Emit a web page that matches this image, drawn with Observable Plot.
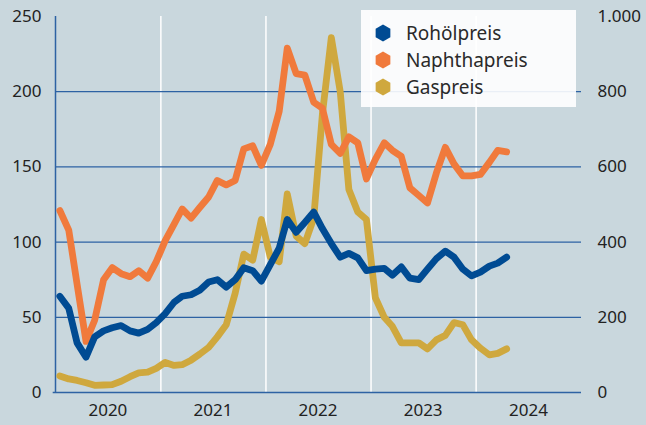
<!DOCTYPE html>
<html>
<head>
<meta charset="utf-8">
<script src="https://cdn.jsdelivr.net/npm/d3@7"></script>
<script src="https://cdn.jsdelivr.net/npm/@observablehq/plot@0.6"></script>
<style>
  body { margin: 0; background: #c9d7dd; }
  #wrap { position: relative; width: 646px; height: 425px; background: #c9d7dd; font-family: "Noto Sans", sans-serif; }
  #legend { position: absolute; left: 361px; top: 10px; width: 215px; height: 97px; background: rgba(255,255,255,0.9); }
</style>
</head>
<body>
<div id="wrap"><div id="chart"></div><div id="legend"></div></div>
<script>
// Monthly data, January 2020 to April 2024 (index 0 = Jan 2020)
const startYear = 2020;
const seriesNames = ["Rohölpreis", "Naphthapreis", "Gaspreis"];
const seriesColors = ["#004b93", "#f07a3c", "#cfa83e"];

// left axis scale
const crude = [64, 56, 33, 23.5, 37, 41, 43, 44.5, 41, 39.5, 42, 46.5,
  52.5, 60, 64, 65, 68, 73.5, 75, 70, 75, 83, 81, 74,
  85, 96, 115, 106.5, 113, 120, 109, 99, 90, 92.5, 89.5, 81,
  82, 82.5, 78, 83.5, 76, 75, 82, 89, 94, 90, 82, 77.5,
  80, 84, 86, 90];
// left axis scale
const naphtha = [121, 108, 72, 34, 48, 75, 83, 79, 77, 81, 76, 87,
  101, 112, 122, 116, 123, 130, 141, 138, 141, 162, 164, 151,
  165, 187, 229, 212, 211, 193, 189, 165, 159, 170, 166, 142,
  155, 166, 161, 157, 136, 131, 126, 146, 163, 152, 144, 144,
  145, 153, 161, 160];
// right axis scale
const gas = [44, 36, 32, 26, 19, 20, 21, 30, 42, 52, 54, 64,
  80, 72, 74, 86, 102, 120, 148, 180, 264, 368, 352, 460,
  360, 348, 528, 416, 396, 464, 740, 944, 800, 540, 480, 460,
  252, 200, 176, 132, 132, 132, 116, 140, 152, 186, 180, 140,
  118, 100, 104, 116];

const leftTicks = [0, 50, 100, 150, 200, 250];
const gridValues = [50, 100, 150, 200];
const yearLabels = [2020, 2021, 2022, 2023, 2024];
const rightFactor = 4; // right axis = 4 × left axis

const dateOf = i => new Date(Date.UTC(startYear, i, 16));
const rows = [];
crude.forEach((v, i) => rows.push({series: seriesNames[0], date: dateOf(i), value: v}));
naphtha.forEach((v, i) => rows.push({series: seriesNames[1], date: dateOf(i), value: v}));
gas.forEach((v, i) => rows.push({series: seriesNames[2], date: dateOf(i), value: v / rightFactor}));

const de = d3.formatLocale({decimal: ",", thousands: ".", grouping: [3], currency: ["", " €"]});
const fmt = de.format(",");

const axisColor = "#2d62a3";
const lineOpts = {x: "date", y: "value", strokeWidth: 6.8, strokeLinejoin: "round", strokeLinecap: "round"};

const chart = Plot.plot({
  width: 646,
  height: 425,
  marginLeft: 55,
  marginRight: 65,
  marginTop: 16,
  marginBottom: 33,
  style: {fontFamily: "Noto Sans", fontSize: "17px", color: "#222", background: "transparent"},
  x: {type: "utc", domain: [new Date(Date.UTC(2020, 0, 1)), new Date(Date.UTC(2025, 0, 1))]},
  y: {domain: [0, 250]},
  marks: [
    Plot.ruleX(yearLabels.slice(1).map(y => new Date(Date.UTC(y, 0, 1))), {y1: 0, y2: 250, stroke: "white", strokeWidth: 1.5}),
    Plot.ruleY(gridValues, {stroke: axisColor, strokeWidth: 1.2}),
    Plot.ruleY([0], {stroke: axisColor, strokeWidth: 1.5, x1: new Date(Date.UTC(2019, 11, 24)), x2: new Date(Date.UTC(2025, 0, 1))}),
    Plot.ruleX([new Date(Date.UTC(2020, 0, 1))], {y1: 0, y2: 250, stroke: axisColor, strokeWidth: 1.5}),
    Plot.axisX({ticks: yearLabels.map(y => new Date(Date.UTC(y, 6, 1))), tickFormat: d3.utcFormat("%Y"), tickSize: 0, tickPadding: 11, label: null}),
    Plot.axisY({anchor: "left", ticks: leftTicks, tickSize: 0, tickPadding: 14, label: null}),
    Plot.axisY({anchor: "right", ticks: leftTicks, tickSize: 0, tickPadding: 16, label: null, tickFormat: d => fmt(d * rightFactor)}),
    Plot.line(rows.filter(d => d.series === seriesNames[2]), {...lineOpts, stroke: seriesColors[2]}),
    Plot.line(rows.filter(d => d.series === seriesNames[1]), {...lineOpts, stroke: seriesColors[1]}),
    Plot.line(rows.filter(d => d.series === seriesNames[0]), {...lineOpts, stroke: seriesColors[0]})
  ]
});
document.getElementById("chart").appendChild(chart);

// legend
const hex = (cx, cy, r) => d3.range(6).map(k => {
  const a = Math.PI / 3 * k - Math.PI / 2;
  return [cx + r * Math.cos(a), cy + r * Math.sin(a)].join(",");
}).join(" ");
const lg = d3.select("#legend").append("svg").attr("width", 215).attr("height", 97);
seriesNames.forEach((name, k) => {
  const cy = 23 + k * 27;
  lg.append("polygon").attr("points", hex(22, cy, 8.5)).attr("fill", seriesColors[k]);
  lg.append("text").attr("x", 45).attr("y", cy).attr("dy", "0.35em")
    .attr("font-family", "Noto Sans").attr("font-size", 19).attr("fill", "#2a2a2a").text(name);
});
</script>
</body>
</html>
